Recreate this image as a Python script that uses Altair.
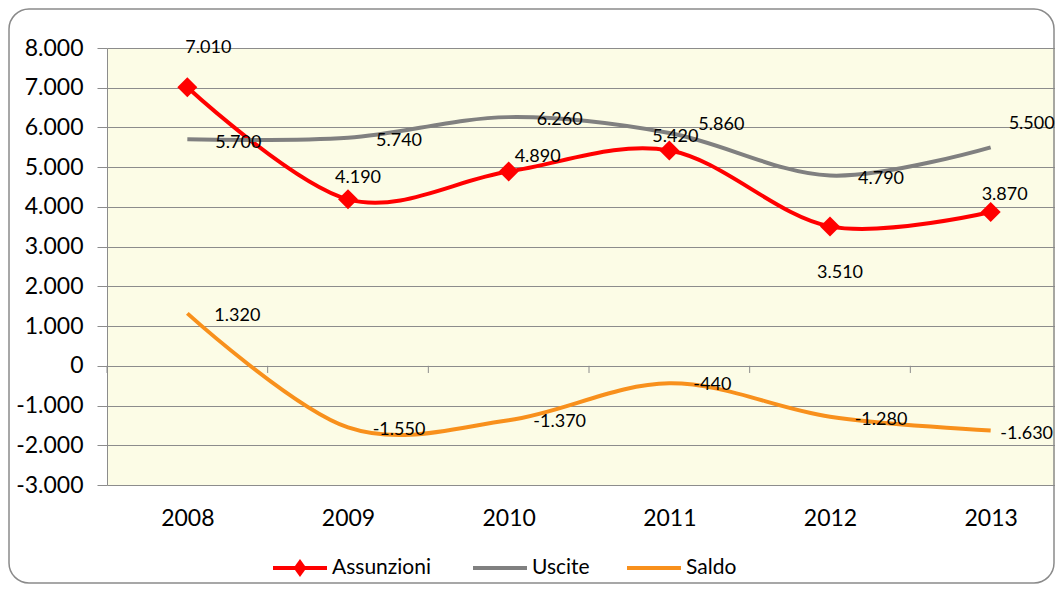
import altair as alt
import pandas as pd

years = ["2008", "2009", "2010", "2011", "2012", "2013"]
assunzioni = [7010, 4190, 4890, 5420, 3510, 3870]
uscite = [5700, 5740, 6260, 5860, 4790, 5500]
saldo = [1320, -1550, -1370, -440, -1280, -1630]
series_names = ["Assunzioni", "Uscite", "Saldo"]
series_colors = ["#FF0000", "#808080", "#F8901C"]
y_ticks = list(range(-3000, 9000, 1000))

# data-label offsets (pixels) relative to each point
assunzioni_dx = [21, 10, 29, 6, 10, 14]
assunzioni_dy = [-39, -21, -15, -13, 47, -17]
uscite_dx = [51, 51, 51, 52, 51, 41]
uscite_dy = [4, 3, 3, -8, 3, -23]
saldo_dx = [50, 51, 51, 43, 51, 36]
saldo_dy = [3, 3, 2, 2, 3, 3]

# legend layout (pixels from the plot's top-left corner)
legend_symbol_x = [166, 366, 520]
legend_symbol_w = 54
legend_y = 520


def fmt(v):
    return f"{v:,}".replace(",", ".")


rows = []
for name, vals, dxs, dys in [
    ("Assunzioni", assunzioni, assunzioni_dx, assunzioni_dy),
    ("Uscite", uscite, uscite_dx, uscite_dy),
    ("Saldo", saldo, saldo_dx, saldo_dy),
]:
    for yr, v, dx, dy in zip(years, vals, dxs, dys):
        rows.append({"year": yr, "series": name, "value": v, "label": fmt(v), "dx": dx, "dy": dy})
df = pd.DataFrame(rows)

FONT = "Lato"
GRID = "#8C8C8C"
W, H = 948, 437
XRANGE = 964  # category band spans past the visible page edge

x_enc = alt.X("year:O", scale=alt.Scale(type="point", domain=years, range=[0, XRANGE]),
              axis=alt.Axis(title=None, labelAngle=0, ticks=False, domain=False, grid=False,
                            labelOverlap=False,
                            labelFontSize=23, labelFont=FONT, labelColor="#000000", labelPadding=22))
y_enc = alt.Y("value:Q", scale=alt.Scale(domain=[-3000, 8000], nice=False, zero=False),
              axis=alt.Axis(title=None, values=y_ticks, tickCount=len(y_ticks) + 2,
                            grid=True, gridColor=GRID, gridWidth=1,
                            domainColor=GRID, tickColor=GRID, tickSize=10, labelPadding=14,
                            labelOverlap=False,
                            labelFontSize=23, labelFont=FONT, labelColor="#000000",
                            labelExpr="(datum.value < 0 ? '-' : '') + replace(format(abs(datum.value), ','), ',', '.')"))

one = pd.DataFrame({"k": [0]})

frame = alt.Chart(one).mark_rect(
    fill="transparent", stroke="#8A8A8A", strokeWidth=1.5, cornerRadius=20
).encode(x=alt.value(-98), x2=alt.value(947), y=alt.value(-39), y2=alt.value(535))

base = alt.Chart(df)

zero_ticks = alt.Chart(pd.DataFrame({"year": years})).mark_rule(
    color=GRID, strokeWidth=1, xOffset=-XRANGE / 12
).encode(x=x_enc, y=alt.datum(0), y2=alt.datum(-180))

lines = base.mark_line(interpolate="cardinal", strokeWidth=4).encode(
    x=x_enc, y=y_enc,
    stroke=alt.Stroke("series:N", scale=alt.Scale(domain=series_names, range=series_colors), legend=None),
    detail="series:N",
)

points = base.transform_filter(alt.datum.series == "Assunzioni").mark_point(
    shape="diamond", filled=True, size=400, opacity=1, color="#FF0000"
).encode(x=x_enc, y=y_enc)

labels = base.mark_text(
    font=FONT, fontSize=18, color="#000000", align="center", baseline="middle",
    dx=alt.expr("datum.dx"), dy=alt.expr("datum.dy")
).encode(x=x_enc, y=y_enc, text="label:N")

# legend entries
legend_layers = []
for name, col, sx in zip(series_names, series_colors, legend_symbol_x):
    legend_layers.append(
        alt.Chart(one).mark_rule(color=col, strokeWidth=4, strokeCap="butt").encode(
            x=alt.value(sx), x2=alt.value(sx + legend_symbol_w), y=alt.value(legend_y))
    )
    legend_layers.append(
        alt.Chart(pd.DataFrame({"name": [name]})).mark_text(
            font=FONT, fontSize=21, color="#000000", align="left", baseline="middle"
        ).encode(x=alt.value(sx + legend_symbol_w + 5), y=alt.value(legend_y), text="name:N")
    )
legend_layers.append(
    alt.Chart(one).mark_point(
        shape="M-0.72,0L0,-1L0.72,0L0,1Z", filled=True, size=324, opacity=1, color=series_colors[0]
    ).encode(x=alt.value(legend_symbol_x[0] + legend_symbol_w / 2), y=alt.value(legend_y))
)

chart = alt.layer(frame, zero_ticks, lines, points, labels, *legend_layers).properties(
    width=W, height=H,
    autosize=alt.AutoSizeParams(type="none"),
    padding={"left": 99, "top": 40, "right": 0, "bottom": 99},
    background="#FFFFFF",
).configure_view(fill="#FCFCE6", stroke=None)

chart.save("out.html", embed_options={"renderer": "svg", "actions": False})
